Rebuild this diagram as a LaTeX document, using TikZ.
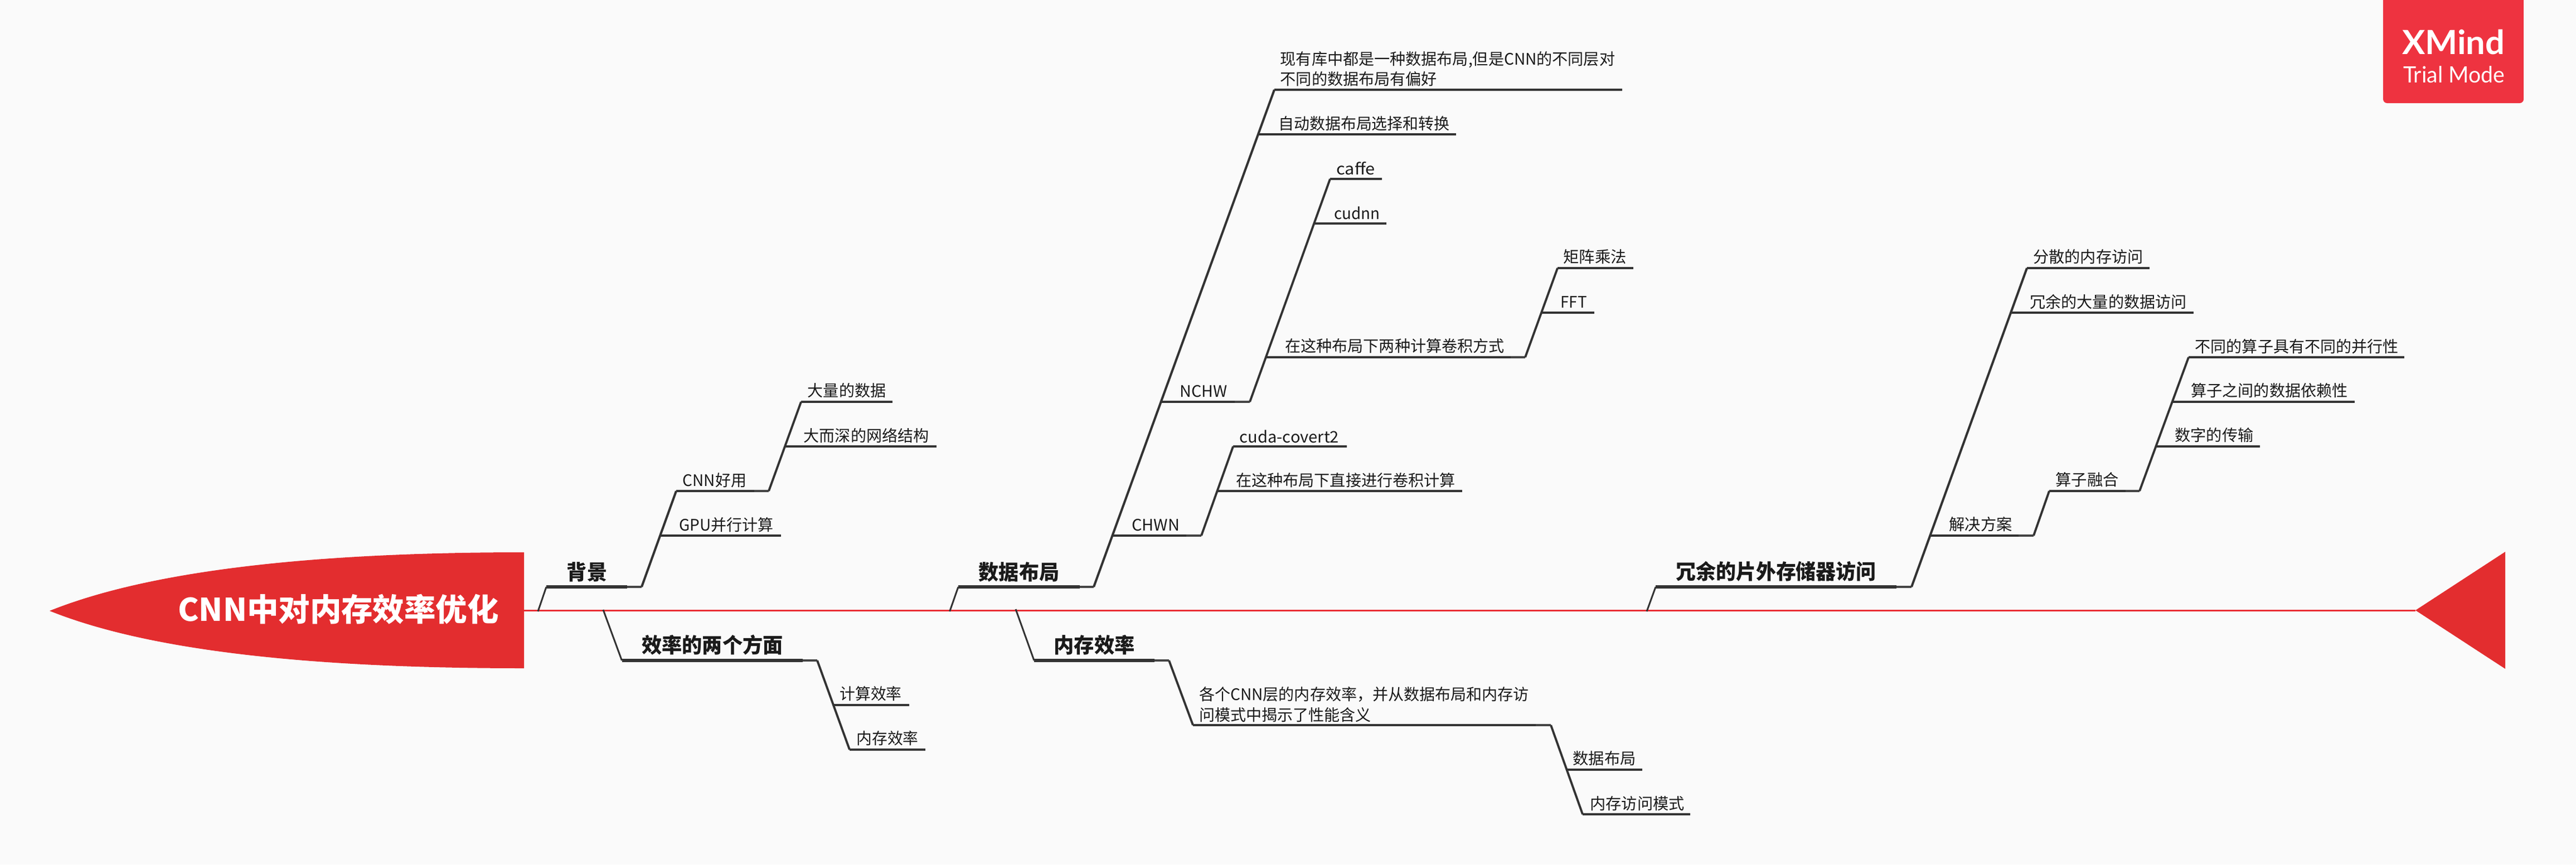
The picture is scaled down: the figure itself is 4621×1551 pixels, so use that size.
\documentclass[tikz,border=0pt]{standalone}
\usepackage{fontspec}
\usepackage{graphicx}
\setmainfont{Noto Sans CJK SC}
\newfontfamily\brandfont{Lato}
\newdimen\pxu \pxu=0.28453pt
\newcommand\fitt[2]{\resizebox{#1\pxu}{\height}{#2}}
\definecolor{bgc}{HTML}{FAFAFA}
\definecolor{redc}{HTML}{E32D2F}
\definecolor{spinec}{HTML}{E92F35}
\definecolor{brandc}{HTML}{EE3340}
\definecolor{linec}{HTML}{333333}
\definecolor{endc}{HTML}{444444}
\definecolor{txtc}{HTML}{1A1A1A}
\tikzset{
 leaf/.style={inner sep=0pt,outer sep=0pt,text=txtc,font=\fontsize{8.1}{10.3}\selectfont},
 major/.style={inner sep=0pt,outer sep=0pt,text=txtc,font=\fontsize{10.6}{12}\selectfont\bfseries},
 rootlabel/.style={inner sep=0pt,outer sep=0pt,text=white,font=\fontsize{16}{18}\selectfont\bfseries},
 spine/.style={draw=spinec,line width=0.95pt},
 stub/.style={draw=linec,line width=0.85pt},
 majorbar/.style={draw=linec,line width=1.5pt,line cap=butt},
 majorrise/.style={draw=linec,line width=1.15pt,miter limit=10},
 leafbar/.style={draw=linec,line width=1.25pt},
 leafrise/.style={draw=linec,line width=1.1pt},
 tailbar/.style={draw=endc,line width=1pt},
 brandlab/.style={inner sep=0pt,outer sep=0pt,text=white}
}
\begin{document}
\begin{tikzpicture}[x=0.01cm,y=-0.01cm]
\useasboundingbox (0,0) rectangle (4621,1551);
\fill[bgc] (0,0) rectangle (4621,1551);

% fish body
\coordinate (headR) at (940,1095.5);
\coordinate (tailT) at (4333,1095.5);
\draw[spine] (headR) -- (tailT);
\fill[redc] (89,1096) .. controls (263,1026) and (547,991) .. (940,991) -- (940,1199)
  .. controls (547,1199) and (263,1166) .. (89,1096) -- cycle;
\fill[redc] (4333,1095) -- (4494,990) -- (4494,1200) -- cycle;
\node[rootlabel] (root) at (607,1093) {\fitt{575}{CNN中对内存效率优化}};

% brand
\fill[brandc,rounded corners=2pt] (4275,-10) rectangle (4527,185);
\node[brandlab,font=\brandfont\bfseries\fontsize{17}{20}\selectfont] (xm) at (4401,76) {\fitt{184}{XMind}};
\node[brandlab,font=\brandfont\fontsize{11.5}{14}\selectfont] (tm) at (4402,134) {\fitt{182}{Trial Mode}};

% ---- background
\coordinate (a0) at (965,1097); \coordinate (a1) at (980,1053); \coordinate (a2) at (1125,1053); \coordinate (a3) at (1151,1053);
\coordinate (b1) at (1213,881); \coordinate (b2) at (1353,881); \coordinate (b3) at (1379,881);
\coordinate (b4) at (1184,961); \coordinate (b5) at (1401,961);
\coordinate (c1) at (1437,721); \coordinate (c2) at (1601,721);
\coordinate (c3) at (1409,801); \coordinate (c4) at (1680,801);
\draw[stub] (a0) -- (a1);
\draw[majorbar] (a1) -- (a2);
\draw[tailbar] (a2) -- (a3);
\draw[majorrise] (a3) -- (b1);
\draw[leafbar] (b1) -- (b2);
\draw[tailbar] (b2) -- (b3);
\draw[leafbar] (b4) -- (b5);
\draw[leafrise] (b3) -- (c1);
\draw[leafbar] (c1) -- (c2);
\draw[leafbar] (c3) -- (c4);
\node[major] (nBg) at (1053,1026) {\fitt{72}{背景}};
\node[leaf] (nCnn) at (1282,862) {\fitt{114}{CNN好用}};
\node[leaf] (nGpu) at (1303,942) {\fitt{169}{GPU并行计算}};
\node[leaf] (nDat) at (1519,701) {\fitt{140}{大量的数据}};
\node[leaf] (nNet) at (1554,781) {\fitt{224}{大而深的网络结构}};

% ---- two aspects
\coordinate (d0) at (1082,1094); \coordinate (d1) at (1115.5,1185); \coordinate (d2) at (1440,1185); \coordinate (d3) at (1466,1185);
\coordinate (d4) at (1524,1345); \coordinate (d5) at (1660,1345);
\coordinate (d6) at (1496,1265); \coordinate (d7) at (1631,1265);
\draw[stub] (d0) -- (d1);
\draw[majorbar] (d1) -- (d2);
\draw[tailbar] (d2) -- (d3);
\draw[leafrise] (d3) -- (d4);
\draw[leafbar] (d4) -- (d5);
\draw[leafbar] (d6) -- (d7);
\node[major] (nTwo) at (1278,1157) {\fitt{253}{效率的两个方面}};
\node[leaf] (nCalc) at (1562,1245) {\fitt{111}{计算效率}};
\node[leaf] (nMem) at (1592,1325) {\fitt{111}{内存效率}};

% ---- data layout
\coordinate (e0) at (1703.6,1097); \coordinate (e1) at (1719,1053); \coordinate (e2) at (1937,1053); \coordinate (e3) at (1962,1053);
\coordinate (f1) at (2286,161); \coordinate (f2) at (2910,161);
\coordinate (f3) at (2258,241); \coordinate (f4) at (2612,241);
\coordinate (f5) at (2083,721); \coordinate (f6) at (2215,721); \coordinate (f7) at (2242,721);
\coordinate (f8) at (1995,961); \coordinate (f9) at (2128,961); \coordinate (f10) at (2155,961);
\coordinate (g1) at (2386,321); \coordinate (g2) at (2479,321);
\coordinate (g3) at (2358,401); \coordinate (g4) at (2487,401);
\coordinate (g5) at (2272,641); \coordinate (g6) at (2710,641); \coordinate (g7) at (2736,641);
\coordinate (h1) at (2794,481); \coordinate (h2) at (2930,481);
\coordinate (h3) at (2766,561); \coordinate (h4) at (2860,561);
\coordinate (i1) at (2212,801); \coordinate (i2) at (2416,801);
\coordinate (i3) at (2184,881); \coordinate (i4) at (2623,881);
\draw[stub] (e0) -- (e1);
\draw[majorbar] (e1) -- (e2);
\draw[tailbar] (e2) -- (e3);
\draw[majorrise] (e3) -- (f1);
\draw[leafbar] (f1) -- (f2);
\draw[leafbar] (f3) -- (f4);
\draw[leafbar] (f5) -- (f6);
\draw[tailbar] (f6) -- (f7);
\draw[leafbar] (f8) -- (f9);
\draw[tailbar] (f9) -- (f10);
\draw[leafrise] (f7) -- (g1);
\draw[leafbar] (g1) -- (g2);
\draw[leafbar] (g3) -- (g4);
\draw[leafbar] (g5) -- (g6);
\draw[tailbar] (g6) -- (g7);
\draw[leafrise] (g7) -- (h1);
\draw[leafbar] (h1) -- (h2);
\draw[leafbar] (h3) -- (h4);
\draw[leafrise] (f10) -- (i1);
\draw[leafbar] (i1) -- (i2);
\draw[leafbar] (i3) -- (i4);
\node[major] (nLay) at (1828,1026) {\fitt{144}{数据布局}};
\node[leaf,align=left] (nLib) at (2597,124) {\fitt{600}{现有库中都是一种数据布局,但是CNN的不同层对}\\\fitt{281}{不同的数据布局有偏好}};
\node[leaf] (nAuto) at (2447,222) {\fitt{307}{自动数据布局选择和转换}};
\node[leaf] (nNchw) at (2159,702) {\fitt{85}{NCHW}};
\node[leaf] (nChwn) at (2073,942) {\fitt{86}{CHWN}};
\node[leaf] (nCaf) at (2432,302) {\fitt{69}{caffe}};
\node[leaf] (nCud) at (2434,382) {\fitt{82}{cudnn}};
\node[leaf] (nTwoWay) at (2502,621) {\fitt{393}{在这种布局下两种计算卷积方式}};
\node[leaf] (nMat) at (2861,461) {\fitt{113}{矩阵乘法}};
\node[leaf] (nFft) at (2823,542) {\fitt{47}{FFT}};
\node[leaf] (nCuda) at (2313,783) {\fitt{178}{cuda-covert2}};
\node[leaf] (nDirect) at (2414,862) {\fitt{393}{在这种布局下直接进行卷积计算}};

% ---- memory efficiency
\coordinate (j0) at (1822,1093); \coordinate (j1) at (1855,1185); \coordinate (j2) at (2071,1185); \coordinate (j3) at (2097,1185);
\coordinate (j4) at (2140,1301); \coordinate (j5) at (2755,1301); \coordinate (j6) at (2782,1301);
\coordinate (k1) at (2839,1461); \coordinate (k2) at (3032,1461);
\coordinate (k3) at (2810,1381); \coordinate (k4) at (2946,1381);
\draw[stub] (j0) -- (j1);
\draw[majorbar] (j1) -- (j2);
\draw[tailbar] (j2) -- (j3);
\draw[leafrise] (j3) -- (j4);
\draw[leafbar] (j4) -- (j5);
\draw[tailbar] (j5) -- (j6);
\draw[leafrise] (j6) -- (k1);
\draw[leafbar] (k1) -- (k2);
\draw[leafbar] (k3) -- (k4);
\node[major] (nMemEff) at (1963,1157) {\fitt{145}{内存效率}};
\node[leaf,align=left] (nEach) at (2447,1264) {\fitt{591}{各个CNN层的内存效率，并从数据布局和内存访}\\\fitt{308}{问模式中揭示了性能含义}};
\node[leaf] (nLay2) at (2878,1361) {\fitt{113}{数据布局}};
\node[leaf] (nAcc) at (2937,1442) {\fitt{169}{内存访问模式}};

% ---- redundant off-chip
\coordinate (m0) at (2954,1097); \coordinate (m1) at (2970,1053); \coordinate (m2) at (3402,1053); \coordinate (m3) at (3429,1053);
\coordinate (n1) at (3636,481); \coordinate (n2) at (3856,481);
\coordinate (n3) at (3608,561); \coordinate (n4) at (3935,561);
\coordinate (n5) at (3462,961); \coordinate (n6) at (3621,961); \coordinate (n7) at (3648,961);
\coordinate (p1) at (3676,881); \coordinate (p2) at (3813,881); \coordinate (p3) at (3838,881);
\coordinate (q1) at (3926,641); \coordinate (q2) at (4313,641);
\coordinate (q3) at (3897,721); \coordinate (q4) at (4224,721);
\coordinate (q5) at (3869,801); \coordinate (q6) at (4054,801);
\draw[stub] (m0) -- (m1);
\draw[majorbar] (m1) -- (m2);
\draw[tailbar] (m2) -- (m3);
\draw[majorrise] (m3) -- (n1);
\draw[leafbar] (n1) -- (n2);
\draw[leafbar] (n3) -- (n4);
\draw[leafbar] (n5) -- (n6);
\draw[tailbar] (n6) -- (n7);
\draw[leafrise] (n7) -- (p1);
\draw[leafbar] (p1) -- (p2);
\draw[tailbar] (p2) -- (p3);
\draw[leafrise] (p3) -- (q1);
\draw[leafbar] (q1) -- (q2);
\draw[leafbar] (q3) -- (q4);
\draw[leafbar] (q5) -- (q6);
\node[major] (nRed) at (3186,1025) {\fitt{359}{冗余的片外存储器访问}};
\node[leaf] (nSca) at (3746,461) {\fitt{197}{分散的内存访问}};
\node[leaf] (nLarge) at (3782,542) {\fitt{281}{冗余的大量的数据访问}};
\node[leaf] (nSol) at (3553,941) {\fitt{113}{解决方案}};
\node[leaf] (nFus) at (3744,861) {\fitt{113}{算子融合}};
\node[leaf] (nPar) at (4120,622) {\fitt{364}{不同的算子具有不同的并行性}};
\node[leaf] (nDep) at (4071,701) {\fitt{281}{算子之间的数据依赖性}};
\node[leaf] (nTrans) at (3972,781) {\fitt{141}{数字的传输}};
\end{tikzpicture}
\end{document}
